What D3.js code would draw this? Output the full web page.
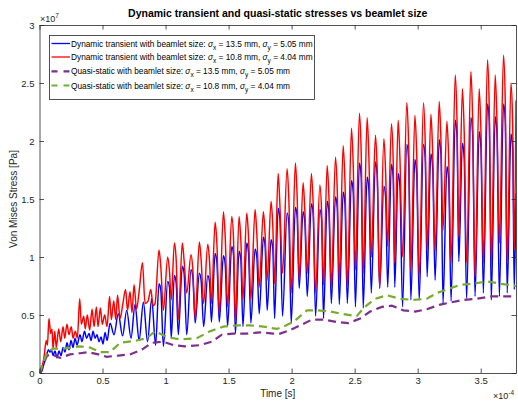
<!DOCTYPE html>
<html><head><meta charset="utf-8">
<script src="https://cdn.jsdelivr.net/npm/d3@7"></script>
<style>
body{margin:0;background:#fff}
svg{display:block}
text{font-family:"Liberation Sans",Arial,Helvetica,sans-serif}
</style>
</head><body><svg id="c" width="518" height="401"></svg>
<script>
// ---------- DATA (time in units of 1e-4 s, stress in units of 1e7 Pa) ----------
const xTicks = [0, 0.5, 1, 1.5, 2, 2.5, 3, 3.5];
const xTickLabels = ["0", "0.5", "1", "1.5", "2", "2.5", "3", "3.5"];
const yTicks = [0, 0.5, 1, 1.5, 2, 2.5, 3];
const yTickLabels = ["0", "0.5", "1", "1.5", "2", "2.5", "3"];
const xMax = 3.78;
const yMax = 3;

const seriesNames = [
  {pre: "Dynamic transient with beamlet size: ", sx: "13.5", sy: "5.05"},
  {pre: "Dynamic transient with beamlet size: ", sx: "10.8", sy: "4.04"},
  {pre: "Quasi-static with beamlet size: ", sx: "13.5", sy: "5.05"},
  {pre: "Quasi-static with beamlet size: ", sx: "10.8", sy: "4.04"}
];

// early (irregular) part of the dynamic signals
const redEarlyT = [0,0.016,0.036,0.054,0.063,0.075,0.089,0.099,0.107,0.121,0.133,0.152,0.168,0.187,0.200,0.218,0.234,0.252,0.266,0.284,0.300,0.319,0.332,0.351,0.363,0.379,0.398,0.417,0.433,0.451,0.464,0.483,0.498,0.517,0.536,0.556,0.570,0.589,0.605,0.619,0.639,0.659,0.683,0.698,0.718,0.734,0.750,0.770,0.790,0.817,0.837,0.861,0.883,0.901,0.917];
const redEarlyV = [0,0.03,0.14,0.28,0.24,0.47,0.34,0.38,0.21,0.36,0.22,0.38,0.27,0.40,0.30,0.42,0.33,0.40,0.30,0.36,0.30,0.64,0.42,0.49,0.38,0.50,0.37,0.55,0.40,0.57,0.40,0.56,0.42,0.50,0.40,0.66,0.46,0.62,0.46,0.67,0.47,0.58,0.72,0.54,0.70,0.52,0.76,0.55,0.70,0.95,0.60,0.62,0.72,0.58,0.60];
const blueEarlyT = [0,0.016,0.028,0.044,0.060,0.071,0.083,0.095,0.107,0.123,0.139,0.155,0.171,0.187,0.202,0.218,0.234,0.250,0.266,0.282,0.298,0.321,0.337,0.357,0.373,0.393,0.409,0.425,0.440,0.456,0.472,0.488,0.504,0.520,0.536,0.560,0.591,0.625,0.659,0.692,0.726,0.758,0.790,0.824,0.857,0.890,0.921];
const blueEarlyV = [0,0.01,0.05,0.11,0.17,0.20,0.18,0.20,0.15,0.19,0.13,0.19,0.15,0.22,0.18,0.26,0.20,0.28,0.22,0.30,0.24,0.33,0.27,0.36,0.30,0.34,0.28,0.36,0.30,0.33,0.27,0.31,0.25,0.35,0.28,0.43,0.33,0.51,0.32,0.54,0.30,0.59,0.28,0.61,0.27,0.64,0.24];

// regular oscillation part: peak, shoulder after the peak, and the trough that follows
const peakT = [0.948,1.017,1.070,1.133,1.202,1.268,1.335,1.393,1.459,1.525,1.583,1.644,1.710,1.776,1.837,1.893,1.964,2.030,2.091,2.157,2.224,2.282,2.348,2.409,2.475,2.538,2.599,2.665,2.732,2.792,2.845,2.914,2.978,3.046,3.105,3.171,3.232,3.298,3.355,3.422,3.488,3.554,3.615,3.681,3.740];
const shoulderT = [0.962,1.031,1.084,1.147,1.216,1.282,1.349,1.407,1.473,1.539,1.597,1.658,1.724,1.790,1.851,1.907,1.978,2.044,2.105,2.171,2.238,2.296,2.362,2.423,2.489,2.552,2.613,2.679,2.746,2.806,2.859,2.928,2.992,3.060,3.119,3.185,3.246,3.312,3.369,3.436,3.502,3.568,3.629,3.695,3.754];
const troughT = [0.983,1.045,1.101,1.168,1.235,1.302,1.364,1.426,1.492,1.554,1.614,1.677,1.743,1.806,1.865,1.928,1.997,2.060,2.124,2.190,2.253,2.315,2.378,2.442,2.506,2.568,2.632,2.698,2.762,2.818,2.880,2.946,3.012,3.075,3.138,3.201,3.265,3.326,3.388,3.455,3.521,3.584,3.648,3.710,3.766];
const redPeak = [1.06,1.00,1.12,1.12,1.02,1.13,1.11,1.30,1.39,1.35,1.35,1.38,1.41,1.39,1.48,1.72,1.76,1.81,1.64,1.72,1.62,1.79,1.86,1.96,2.11,2.24,2.20,2.05,2.02,2.15,2.18,2.33,2.22,2.33,2.23,2.34,2.17,2.57,2.45,2.60,2.45,2.70,2.57,2.74,2.50];
const redShoulder = [0.92,0.88,0.98,0.97,0.90,0.98,0.96,1.12,1.18,1.16,1.15,1.18,1.20,1.19,1.26,1.45,1.50,1.52,1.40,1.46,1.39,1.52,1.58,1.66,1.78,1.90,1.86,1.75,1.72,1.82,1.86,1.98,1.90,1.98,1.90,1.99,1.85,2.18,2.08,2.20,2.08,2.28,2.18,2.32,2.12];
const redTrough = [0.54,0.63,0.46,0.69,0.47,0.60,0.60,0.51,0.57,0.44,0.63,0.63,0.74,0.80,0.77,0.86,0.69,0.80,0.86,0.69,0.76,0.74,0.80,0.74,0.89,0.86,1.00,0.73,1.09,0.95,1.00,0.89,0.82,1.06,1.05,1.23,0.95,1.18,0.95,0.83,0.95,0.95,1.12,0.95,1.06];
const bluePeak = [0.77,0.79,0.84,0.92,0.89,0.86,0.84,1.03,1.01,1.09,1.05,1.12,1.07,1.17,1.15,1.42,1.38,1.43,1.39,1.46,1.41,1.48,1.52,1.56,1.66,1.81,1.69,1.82,1.61,1.80,1.72,1.97,1.84,1.97,1.89,2.01,1.78,2.18,1.98,2.20,2.08,2.32,2.21,2.32,2.06];
const blueShoulder = [0.72,0.74,0.78,0.86,0.83,0.80,0.78,0.96,0.94,1.02,0.98,1.04,1.00,1.09,1.07,1.33,1.29,1.34,1.30,1.37,1.32,1.39,1.42,1.46,1.55,1.69,1.58,1.70,1.51,1.68,1.61,1.84,1.72,1.84,1.77,1.88,1.67,2.04,1.85,2.06,1.94,2.17,2.07,2.17,1.93];
const blueTrough = [0.23,0.30,0.33,0.33,0.43,0.40,0.44,0.44,0.40,0.34,0.40,0.43,0.51,0.54,0.47,0.49,0.43,0.73,0.66,0.49,0.47,0.60,0.59,0.60,0.57,0.56,0.69,0.73,0.74,0.74,0.57,0.63,0.63,0.83,0.80,0.60,0.62,0.96,0.64,0.66,0.69,0.63,0.66,0.69,0.72];
const endT = 3.78;
const redEnd = 2.35;
const blueEnd = 1.55;

// quasi-static curves
const greenT = [0,0.060,0.110,0.189,0.321,0.401,0.480,0.560,0.639,0.771,0.851,0.917,1.010,1.115,1.248,1.353,1.459,1.565,1.671,1.776,1.883,1.935,2.014,2.121,2.200,2.306,2.398,2.517,2.570,2.663,2.756,2.861,2.967,3.073,3.152,3.232,3.337,3.443,3.549,3.655,3.78];
const greenV = [0,0.18,0.21,0.21,0.23,0.22,0.18,0.18,0.26,0.28,0.30,0.36,0.31,0.29,0.30,0.36,0.40,0.41,0.41,0.40,0.38,0.40,0.44,0.54,0.54,0.53,0.51,0.49,0.56,0.64,0.67,0.64,0.63,0.64,0.69,0.72,0.76,0.77,0.79,0.77,0.75];
const purpleT = [0,0.060,0.097,0.163,0.242,0.321,0.387,0.467,0.533,0.625,0.718,0.811,0.890,0.983,1.062,1.155,1.274,1.367,1.446,1.538,1.644,1.750,1.856,1.909,1.988,2.067,2.160,2.252,2.359,2.451,2.544,2.623,2.716,2.795,2.887,2.980,3.073,3.179,3.271,3.363,3.470,3.575,3.655,3.78];
const purpleV = [0,0.15,0.16,0.13,0.16,0.17,0.18,0.16,0.14,0.15,0.16,0.20,0.26,0.27,0.24,0.23,0.24,0.27,0.33,0.34,0.34,0.35,0.34,0.34,0.37,0.41,0.46,0.46,0.44,0.43,0.47,0.53,0.57,0.58,0.54,0.53,0.55,0.59,0.61,0.63,0.64,0.66,0.66,0.66];

const colors = {blue: "#0000ff", red: "#ff0000", purple: "#7e2f8e", green: "#77ac30"};

// ---------- BUILD ----------
function buildDynamic(earlyT, earlyV, pV, sV, tV, endV) {
  const pts = earlyT.map((t, i) => [t, earlyV[i]]);
  peakT.forEach((t, i) => {
    pts.push([t, pV[i]]);
    pts.push([shoulderT[i], sV[i]]);
    pts.push([troughT[i], tV[i]]);
  });
  pts.push([endT, endV]);
  return pts;
}
const blueData = buildDynamic(blueEarlyT, blueEarlyV, bluePeak, blueShoulder, blueTrough, blueEnd);
const redData = buildDynamic(redEarlyT, redEarlyV, redPeak, redShoulder, redTrough, redEnd);
const purpleData = purpleT.map((t, i) => [t, purpleV[i]]);
const greenData = greenT.map((t, i) => [t, greenV[i]]);

const svg = d3.select("#c");
const L = 39.5, R = 516, T = 25, B = 373;
const x = d3.scaleLinear().domain([0, xMax]).range([L, R]);
const y = d3.scaleLinear().domain([0, yMax]).range([B, T]);
const axisColor = "#262626";

svg.append("defs").append("clipPath").attr("id", "clip")
  .append("rect").attr("x", L).attr("y", T).attr("width", R - L).attr("height", B - T);

const plot = svg.append("g").attr("clip-path", "url(#clip)");
const dynLine = d3.line().x(d => x(d[0])).y(d => y(d[1])).curve(d3.curveMonotoneX);
const qsLine = d3.line().x(d => x(d[0])).y(d => y(d[1]));

plot.append("path").datum(blueData).attr("d", dynLine)
  .attr("fill", "none").attr("stroke", colors.blue).attr("stroke-width", 1.45).attr("stroke-linejoin", "round");
plot.append("path").datum(redData).attr("d", dynLine)
  .attr("fill", "none").attr("stroke", colors.red).attr("stroke-width", 1.45).attr("stroke-linejoin", "round");
plot.append("path").datum(purpleData).attr("d", qsLine)
  .attr("fill", "none").attr("stroke", colors.purple).attr("stroke-width", 2.2).attr("stroke-dasharray", "8,5");
plot.append("path").datum(greenData).attr("d", qsLine)
  .attr("fill", "none").attr("stroke", colors.green).attr("stroke-width", 2.2).attr("stroke-dasharray", "8,5");

// axes (MATLAB style: ticks inside, box)
const tickLen = 4.5;
const xAxisB = d3.axisBottom(x).tickValues(xTicks).tickFormat((d, i) => xTickLabels[i]).tickSizeInner(-tickLen).tickSizeOuter(0).tickPadding(4);
const xAxisT = d3.axisTop(x).tickValues(xTicks).tickFormat("").tickSizeInner(-tickLen).tickSizeOuter(0);
const yAxisL = d3.axisLeft(y).tickValues(yTicks).tickFormat((d, i) => yTickLabels[i]).tickSizeInner(-tickLen).tickSizeOuter(0).tickPadding(5);
const yAxisR = d3.axisRight(y).tickValues(yTicks).tickFormat("").tickSizeInner(-tickLen).tickSizeOuter(0);

function styleAxis(g) {
  g.select(".domain").attr("stroke", axisColor).attr("stroke-width", 0.8);
  g.selectAll(".tick line").attr("stroke", axisColor).attr("stroke-width", 0.8);
  g.selectAll(".tick text").attr("fill", axisColor).style("font-size", "9.5px").style("font-family", '"Liberation Sans",Arial,sans-serif');
}
svg.append("g").attr("transform", `translate(0,${B})`).call(xAxisB).call(styleAxis);
svg.append("g").attr("transform", `translate(0,${T})`).call(xAxisT).call(styleAxis);
svg.append("g").attr("transform", `translate(${L},0)`).call(yAxisL).call(styleAxis);
svg.append("g").attr("transform", `translate(${R},0)`).call(yAxisR).call(styleAxis);

// title and labels
svg.append("text").attr("x", (L + R) / 2).attr("y", 17).attr("text-anchor", "middle")
  .style("font-size", "10.5px").style("font-weight", "bold").attr("fill", "#000")
  .text("Dynamic transient and quasi-static stresses vs beamlet size");

const ex7 = svg.append("text").attr("x", 40).attr("y", 21.5).attr("fill", axisColor).style("font-size", "9px");
ex7.append("tspan").text("\u00d710");
ex7.append("tspan").attr("dy", -4).style("font-size", "6.5px").text("7");

const ex4 = svg.append("text").attr("x", 493).attr("y", 398.5).attr("fill", axisColor).style("font-size", "9px");
ex4.append("tspan").text("\u00d710");
ex4.append("tspan").attr("dy", -4).style("font-size", "6.5px").text("-4");

svg.append("text").attr("x", (L + R) / 2).attr("y", 397).attr("text-anchor", "middle")
  .attr("fill", axisColor).style("font-size", "10px").text("Time [s]");

svg.append("text").attr("transform", `translate(17,${(T + B) / 2}) rotate(-90)`).attr("text-anchor", "middle")
  .attr("fill", axisColor).style("font-size", "10px").text("Von Mises Stress [Pa]");

// legend
const lg = svg.append("g");
lg.append("rect").attr("x", 49.5).attr("y", 35.5).attr("width", 265).attr("height", 64)
  .attr("fill", "#fff").attr("stroke", axisColor).attr("stroke-width", 0.8);
const legendStyles = [
  {c: colors.blue, w: 1.3, dash: null},
  {c: colors.red, w: 1.3, dash: null},
  {c: colors.purple, w: 2.2, dash: "6,6"},
  {c: colors.green, w: 2.2, dash: "6,6"}
];
const rowY = [43.5, 57, 71.3, 85.5];
seriesNames.forEach((s, i) => {
  const yy = rowY[i];
  const ln = lg.append("line").attr("x1", 51.5).attr("x2", 70).attr("y1", yy).attr("y2", yy)
    .attr("stroke", legendStyles[i].c).attr("stroke-width", legendStyles[i].w);
  if (legendStyles[i].dash) ln.attr("stroke-dasharray", legendStyles[i].dash);
  const t = lg.append("text").attr("x", 71).attr("y", yy + 3).attr("fill", "#000").style("font-size", "8.3px");
  t.append("tspan").text(s.pre);
  t.append("tspan").style("font-style", "italic").text("\u03c3");
  t.append("tspan").attr("dy", 3).style("font-size", "6.5px").text("x");
  t.append("tspan").attr("dy", -3).text(" = " + s.sx + " mm, ");
  t.append("tspan").style("font-style", "italic").text("\u03c3");
  t.append("tspan").attr("dy", 3).style("font-size", "6.5px").text("y");
  t.append("tspan").attr("dy", -3).text(" = " + s.sy + " mm");
});
</script></body></html>
